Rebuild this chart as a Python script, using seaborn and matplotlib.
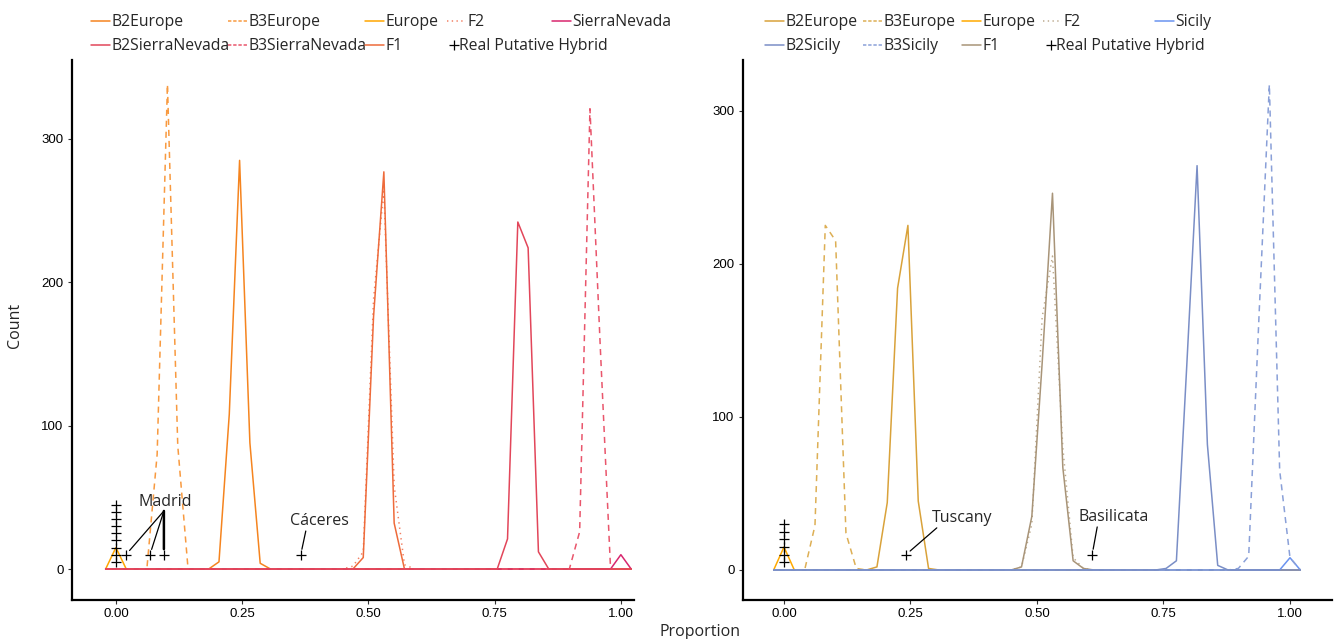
import numpy as np
import pandas as pd
import matplotlib
matplotlib.use("Agg")
import matplotlib.pyplot as plt
import seaborn as sns
from matplotlib.lines import Line2D

# ---------------- data ----------------
# frequency polygons with 50 bins over [0, 1] (bin width 1/49), padded with an empty bin each side
bin_index = np.arange(-1, 51)
bins_total = 49

# counts per bin index (bins not listed are 0)
left_b2europe = {10: 5, 11: 108, 12: 285, 13: 88, 14: 4}
left_b3europe = {4: 80, 5: 338, 6: 86}
left_europe = {0: 15}
left_f2 = {23: 2, 24: 12, 25: 188, 26: 265, 27: 58, 28: 3}
left_sierranevada = {49: 10}
left_b2sierranevada = {38: 21, 39: 242, 40: 224, 41: 12}
left_b3sierranevada = {45: 26, 46: 321, 47: 155}
left_f1 = {24: 8, 25: 176, 26: 277, 27: 32}

right_b2europe = {9: 2, 10: 44, 11: 184, 12: 225, 13: 45, 14: 1}
right_b3europe = {3: 29, 4: 225, 5: 215, 6: 24, 7: 1}
right_europe = {0: 15}
right_f2 = {23: 2, 24: 30, 25: 165, 26: 205, 27: 80, 28: 8, 29: 1}
right_sicily = {49: 8}
right_b2sicily = {37: 1, 38: 6, 39: 133, 40: 264, 41: 82, 42: 3}
right_b3sicily = {44: 1, 45: 9, 46: 166, 47: 317, 48: 65, 49: 8}
right_f1 = {23: 2, 24: 35, 25: 135, 26: 246, 27: 67, 28: 6, 29: 1}

# real putative hybrids
left_hybrid_x = [0, 0, 0, 0, 0, 0, 0, 0, 0, 0.0198, 0.0673, 0.095, 0.366]
left_hybrid_y = [5, 10, 15, 20, 25, 30, 35, 40, 45, 10, 10, 10, 10]
right_hybrid_x = [0, 0, 0, 0, 0, 0, 0.241, 0.609]
right_hybrid_y = [5, 10, 15, 20, 25, 30, 10, 10]

left_labels = ["B2Europe", "B3Europe", "Europe", "F2", "SierraNevada",
               "B2SierraNevada", "B3SierraNevada", "F1"]
right_labels = ["B2Europe", "B3Europe", "Europe", "F2", "Sicily",
                "B2Sicily", "B3Sicily", "F1"]

x_ticks = [0, 0.25, 0.5, 0.75, 1.0]
x_tick_labels = ["0.00", "0.25", "0.50", "0.75", "1.00"]
y_ticks = [0, 100, 200, 300]

# ---------------- styles ----------------
left_colors = {"B2Europe": "#F5841F", "B3Europe": "#F89A40", "Europe": "#FFA600",
               "F2": "#F27F62", "SierraNevada": "#D8266E", "B2SierraNevada": "#E2465A",
               "B3SierraNevada": "#E9566C", "F1": "#EE6B3B"}
right_colors = {"B2Europe": "#D9A23A", "B3Europe": "#DDAF55", "Europe": "#FFAA00",
                "F2": "#BCAA8E", "Sicily": "#6A93F0", "B2Sicily": "#7A8EC6",
                "B3Sicily": "#8AA0D8", "F1": "#A89478"}
styles = {"B3Europe": "dashed", "B3SierraNevada": "dashed", "B3Sicily": "dashed", "F2": "dotted"}


def full_counts(d):
    return [d.get(int(k), 0) for k in bin_index]


def make_df(series):
    rows = []
    for name, d in series.items():
        cnt = full_counts(d)
        for k, c in zip(bin_index, cnt):
            rows.append({"series": name, "proportion": k / bins_total, "count": c})
    return pd.DataFrame(rows)


left_df = make_df({"B2Europe": left_b2europe, "B3Europe": left_b3europe, "Europe": left_europe,
                   "F2": left_f2, "F1": left_f1, "SierraNevada": left_sierranevada,
                   "B3SierraNevada": left_b3sierranevada, "B2SierraNevada": left_b2sierranevada})
right_df = make_df({"B2Europe": right_b2europe, "B3Europe": right_b3europe, "Europe": right_europe,
                    "F2": right_f2, "F1": right_f1, "Sicily": right_sicily,
                    "B3Sicily": right_b3sicily, "B2Sicily": right_b2sicily})

sns.set_theme(style="white")
plt.rcParams["font.family"] = ["Open Sans", "DejaVu Sans"]

W, H = 1335, 639
fig = plt.figure(figsize=(W / 100, H / 100), dpi=100)
axL = fig.add_axes([72 / W, 1 - 600 / H, (634 - 72) / W, (600 - 60) / H])
axR = fig.add_axes([743 / W, 1 - 600 / H, (1332 - 743) / W, (600 - 60) / H])

LW = 1.1


def draw_panel(ax, df, colors, hx, hy):
    for name in df["series"].unique():
        sub = df[df["series"] == name]
        sns.lineplot(data=sub, x="proportion", y="count", color=colors[name],
                     linewidth=LW, ax=ax, legend=False, estimator=None, sort=True)
        line = ax.lines[-1]
        st = styles.get(name)
        if st == "dashed":
            line.set_dashes((4, 3.2))
        elif st == "dotted":
            line.set_dashes((0.9, 2.6))
    sns.scatterplot(x=hx, y=hy, marker="+", color="black", s=55, linewidth=0.9,
                    ax=ax, legend=False, zorder=6)
    ax.set_xticks(x_ticks)
    ax.set_xticklabels(x_tick_labels)
    ax.set_yticks(y_ticks)
    ax.set_xlabel("")
    ax.set_ylabel("")
    for s in ["top", "right"]:
        ax.spines[s].set_visible(False)
    for s in ["left", "bottom"]:
        ax.spines[s].set_color("black")
        ax.spines[s].set_linewidth(1.6)
    ax.tick_params(axis="both", length=3, width=0.8, color="#333333", labelsize=9.5,
                   labelcolor="black", pad=3, left=True, bottom=True)
    for lab in ax.get_xticklabels() + ax.get_yticklabels():
        lab.set_fontfamily(["Liberation Sans", "DejaVu Sans"])


draw_panel(axL, left_df, left_colors, left_hybrid_x, left_hybrid_y)
draw_panel(axR, right_df, right_colors, right_hybrid_x, right_hybrid_y)

axL.set_xlim(-0.087, 1.026)
axL.set_ylim(-21.6, 355)
axR.set_xlim(-0.081, 1.083)
axR.set_ylim(-19.6, 333)

# ---------------- annotations ----------------
seg = dict(arrowstyle="-", color="black", lw=0.9, shrinkA=0, shrinkB=4)
axL.text(0.097, 46.8, "Madrid", ha="center", va="center", fontsize=11.5)
for i in (9, 10, 11):
    st = dict(seg)
    if i == 11:
        st["lw"] = 1.8
    axL.annotate("", xy=(left_hybrid_x[i], left_hybrid_y[i]), xytext=(0.095, 40.5), arrowprops=st)
axL.text(0.404, 33.5, "Cáceres", ha="center", va="center", fontsize=11.5)
axL.annotate("", xy=(left_hybrid_x[12], left_hybrid_y[12]), xytext=(0.376, 26.5), arrowprops=seg)
axR.text(0.352, 34, "Tuscany", ha="center", va="center", fontsize=11.5)
axR.annotate("", xy=(right_hybrid_x[6], right_hybrid_y[6]), xytext=(0.302, 27.5), arrowprops=seg)
axR.text(0.652, 34.6, "Basilicata", ha="center", va="center", fontsize=11.5)
axR.annotate("", xy=(right_hybrid_x[7], right_hybrid_y[7]), xytext=(0.619, 28.1), arrowprops=seg)

fig.text(15 / W, 1 - 325 / H, "Count", rotation=90, ha="center", va="center", fontsize=11.5)
fig.text(700 / W, 1 - 632 / H, "Proportion", ha="center", va="center", fontsize=11.5)

# ---------------- legends ----------------
LEG_FS = 11.3
top_y = 1 - 14 / H


def handle(name, colors):
    h = Line2D([], [], color=colors[name], linewidth=LW)
    st = styles.get(name)
    if st == "dashed":
        h.set_dashes((2.2, 1.2))
    elif st == "dotted":
        h.set_dashes((0.9, 2.2))
    return h


def column(names, colors, x_px):
    fig.legend([handle(n, colors) for n in names], names, loc="upper left",
               bbox_to_anchor=(x_px / W, top_y), frameon=False, borderpad=0,
               borderaxespad=0, handlelength=1.2, handletextpad=0.12,
               labelspacing=0.52, fontsize=LEG_FS)


def hybrid_key(x_px):
    fig.legend([Line2D([], [], color="black", marker="+", linestyle="none", markersize=7,
                       markeredgewidth=0.9)], ["Real Putative Hybrid"], loc="upper left",
               bbox_to_anchor=(x_px / W, top_y - 24 / H), frameon=False, borderpad=0,
               borderaxespad=0, handlelength=0.5, handletextpad=0.05, fontsize=LEG_FS)


left_cols = [(["B2Europe", "B2SierraNevada"], 91), (["B3Europe", "B3SierraNevada"], 228),
             (["Europe", "F1"], 365), (["F2"], 447), (["SierraNevada"], 552)]
for names, x in left_cols:
    column(names, left_colors, x)
hybrid_key(450)

right_cols = [(["B2Europe", "B2Sicily"], 765), (["B3Europe", "B3Sicily"], 863),
              (["Europe", "F1"], 962), (["F2"], 1043), (["Sicily"], 1155)]
for names, x in right_cols:
    column(names, right_colors, x)
hybrid_key(1047)

fig.savefig("out.png", dpi=100)
